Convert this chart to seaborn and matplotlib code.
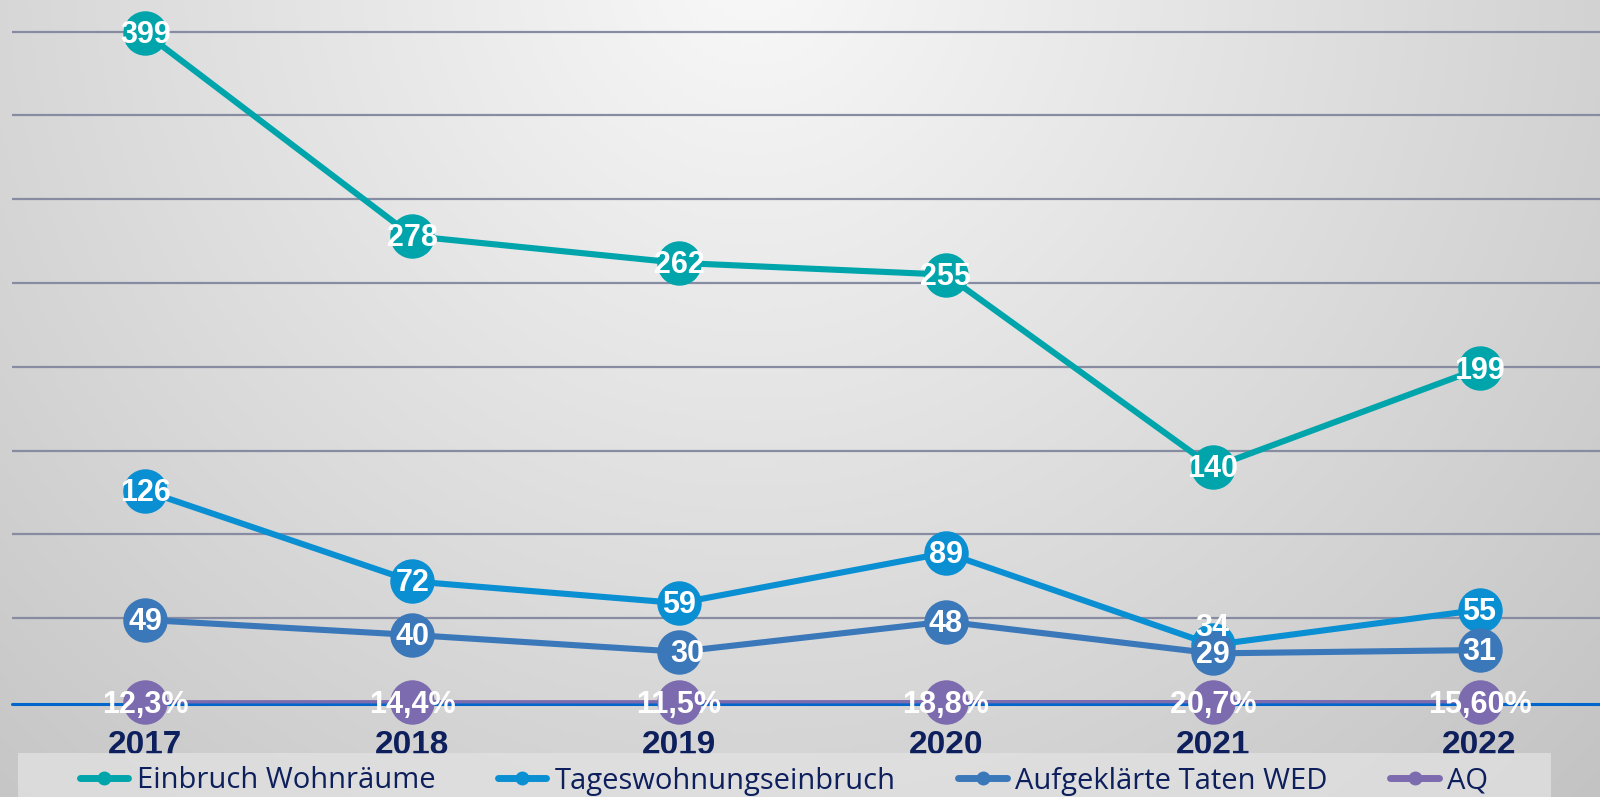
import numpy as np
import pandas as pd
import matplotlib
matplotlib.use("Agg")
import matplotlib.pyplot as plt
import matplotlib.transforms as mtransforms
import seaborn as sns
from matplotlib.lines import Line2D
from matplotlib.patches import Rectangle

# data
years = ["2017", "2018", "2019", "2020", "2021", "2022"]
einbruch = [399, 278, 262, 255, 140, 199]
tages = [126, 72, 59, 89, 34, 55]
aufgeklaert = [49, 40, 30, 48, 29, 31]
aq = [0.123, 0.144, 0.115, 0.188, 0.207, 0.156]
aq_labels = ["12,3%", "14,4%", "11,5%", "18,8%", "20,7%", "15,60%"]
series_names = ["Einbruch Wohnräume", "Tageswohnungseinbruch", "Aufgeklärte Taten WED", "AQ"]

colors = ["#00A5AC", "#0A8FD3", "#3B78BA", "#7C6BAF"]
navy = "#0D1F5C"

sns.set_style("white")

W, H = 1600, 797
fig = plt.figure(figsize=(W / 100, H / 100), dpi=100)

# background gradient
bg = fig.add_axes([0, 0, 1, 1], zorder=-10)
gx, gy = np.meshgrid(np.linspace(0, 1, 400), np.linspace(1, 0, 200))
d = np.sqrt(((gx - 0.47) / 0.62) ** 2 + ((gy - 1.05) / 1.25) ** 2)
v = np.clip(0.975 - 0.175 * d, 0, 1)
bg.imshow(np.dstack([v, v, v]), aspect="auto", extent=[0, 1, 0, 1])
bg.axis("off")

ax = fig.add_axes([12 / W, 95 / H, 1601 / W, 702 / H])
ax.set_facecolor("none")

x = np.arange(len(years))
ymax = 400 + 31.6 * 400 / 670.4

# gridlines
for g in range(50, 401, 50):
    ax.axhline(g, color="#878CA3", lw=1.6, zorder=1)
# zero line sits just under the AQ line
shift = mtransforms.offset_copy(ax.get_yaxis_transform(), fig=fig, y=-1.5, units="points")
ax.plot([0, 1], [0, 0], transform=shift, color="#0066CC", lw=2.2, zorder=1.5, clip_on=False)

all_vals = [einbruch, tages, aufgeklaert, aq]
for i, (name, vals) in enumerate(zip(series_names, all_vals)):
    sns.lineplot(x=x, y=vals, ax=ax, color=colors[i], lw=4.4 if i < 3 else 2.4,
                 marker="o", markersize=32, markeredgewidth=0, zorder=2 + i,
                 clip_on=False, legend=False)

# value labels
offsets = {(1, 4): (0, 19), (2, 2): (8, 0)}
lab_font = dict(family=["Liberation Sans", "DejaVu Sans"], weight="bold",
                size=22, color="white", ha="center", va="center", zorder=10)
for i, vals in enumerate(all_vals[:3]):
    for j, val in enumerate(vals):
        dx, dy = offsets.get((i, j), (0, 0))
        ax.annotate(str(val), (x[j], val), xytext=(dx * 0.72, dy * 0.72 - 1.5),
                    textcoords="offset points", annotation_clip=False, **lab_font)
for j, (val, s) in enumerate(zip(aq, aq_labels)):
    ax.annotate(s, (x[j], val), xytext=(0, -2.5), textcoords="offset points",
                annotation_clip=False, **lab_font)

ax.set_xlim(-0.5, 5.5)
ax.set_ylim(0, ymax)
ax.set_yticks([])
ax.set_xticks(x)
ax.set_xticklabels(years, fontweight="bold", fontsize=24, color=navy,
                   family=["Liberation Sans", "DejaVu Sans"])
ax.tick_params(axis="x", length=0, pad=20)
for sp in ax.spines.values():
    sp.set_visible(False)
ax.set_xlabel("")
ax.set_ylabel("")

# legend box (semi transparent, over the year labels)
fig.patches.append(Rectangle((18 / W, 0), (1551 - 18) / W, 44 / H, transform=fig.transFigure,
                             facecolor="#E2E2E2", alpha=0.75, edgecolor="none", zorder=3))

handles = [Line2D([], [], color=c, lw=5, marker="o", markersize=9) for c in colors]
leg = fig.legend(handles, series_names, loc="center",
                 bbox_to_anchor=(784 / W, 1 - 781 / H), ncol=4, frameon=False,
                 borderaxespad=0, borderpad=0, handlelength=1.65, handletextpad=0.3,
                 columnspacing=2.15,
                 prop=dict(family=["Open Sans", "DejaVu Sans"], size=21))
for t in leg.get_texts():
    t.set_color(navy)

fig.savefig("out.png", dpi=100)
